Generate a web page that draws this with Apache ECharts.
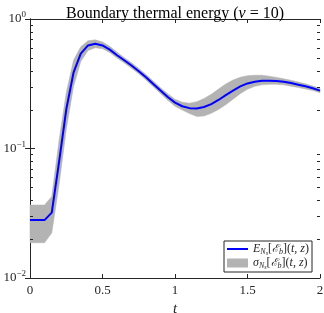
<!DOCTYPE html>
<html><head><meta charset="utf-8">
<script src="https://cdn.jsdelivr.net/npm/echarts@6/dist/echarts.min.js"></script>
<style>html,body{margin:0;padding:0;background:#fff}#c{width:324px;height:313px}</style>
</head><body><div id="c"></div>
<script>
const tVals = [0,0.05,0.1,0.15,0.2,0.25,0.3,0.35,0.4,0.45,0.5,0.55,0.6,0.65,0.7,0.75,0.8,0.85,0.9,0.95,1.0,1.05,1.1,1.15,1.2,1.25,1.3,1.35,1.4,1.45,1.5,1.55,1.6,1.65,1.7,1.75,1.8,1.85,1.9,1.95,2.0];
const meanVals = [0.028,0.028,0.028,0.032,0.078,0.2,0.385,0.54,0.625,0.645,0.625,0.58,0.525,0.48,0.437,0.395,0.355,0.315,0.28,0.25,0.226,0.212,0.205,0.204,0.209,0.22,0.237,0.258,0.28,0.302,0.318,0.328,0.334,0.334,0.332,0.328,0.32,0.311,0.302,0.292,0.28];
const lowerVals = [0.0187,0.0187,0.0187,0.0223,0.052,0.14,0.3,0.47,0.57,0.6,0.59,0.55,0.5,0.458,0.417,0.377,0.338,0.3,0.266,0.236,0.212,0.198,0.186,0.177,0.178,0.187,0.2,0.218,0.24,0.265,0.287,0.302,0.31,0.313,0.313,0.31,0.303,0.296,0.288,0.28,0.27];
const upperVals = [0.0366,0.0366,0.0366,0.0426,0.115,0.27,0.48,0.61,0.68,0.69,0.665,0.615,0.555,0.503,0.46,0.415,0.373,0.332,0.295,0.265,0.24,0.228,0.224,0.23,0.243,0.262,0.288,0.315,0.338,0.355,0.365,0.368,0.368,0.362,0.354,0.345,0.336,0.326,0.316,0.304,0.29];
const xTicks = [0,0.5,1,1.5,2];
const yMajorTicks = [0.01,0.1,1];
const yMinorTicks = [0.02,0.03,0.04,0.05,0.06,0.07,0.08,0.09,0.2,0.3,0.4,0.5,0.6,0.7,0.8,0.9];
const seriesNames = ['mean','std'];

const serif = 'Liberation Serif';
const ink = '#262626';
const gray = '#b3b3b3';
const meanData = tVals.map((t,i)=>[t,meanVals[i]]);

const legendRich = {
  n:{fontFamily:serif,fontSize:12,color:ink},
  i:{fontFamily:serif,fontSize:12,fontStyle:'italic',color:ink},
  sub:{fontFamily:serif,fontSize:8,fontStyle:'italic',color:ink,padding:[5,0,0,0]},
  subsub:{fontFamily:serif,fontSize:6,fontStyle:'italic',color:ink,padding:[8,0,0,0]},
  sc:{fontFamily:'DejaVu Serif',fontSize:11,fontStyle:'italic',color:ink}
};
const legendText = {
  mean:'{i|E}{sub|N}{subsub|s}{n|[}{sc|ℰ}{sub|b}{n|](}{i|t}{n|, }{i|z}{n|)}',
  std:'{i|σ}{sub|N}{subsub|s}{n|[}{sc|ℰ}{sub|b}{n|](}{i|t}{n|, }{i|z}{n|)}'
};

const option = {
  animation:false,
  backgroundColor:'#fff',
  title:{
    text:'{n|Boundary thermal energy (}{i|ν}{n| = 10)}',
    left:170, top:1, textAlign:'center',
    textStyle:{fontWeight:'normal',rich:{n:{fontFamily:serif,fontSize:16,fontWeight:'normal',color:'#000'},i:{fontFamily:serif,fontSize:16,fontWeight:'normal',fontStyle:'italic',color:'#000'}}}
  },
  grid:{left:30,right:4,top:19,bottom:35,containLabel:false,outerBoundsMode:'none'},
  legend:{
    orient:'vertical', right:12, bottom:41,
    data:[{name:seriesNames[0],itemStyle:{opacity:0}},{name:seriesNames[1],icon:'rect',itemStyle:{color:gray}}],
    borderColor:ink, borderWidth:1, backgroundColor:'#fff',
    padding:[2,3,2,2], itemGap:1, itemWidth:21, itemHeight:9,
    formatter:(n)=>legendText[n],
    textStyle:{rich:legendRich, padding:[0,0,0,0]}
  },
  xAxis:[{
    type:'value', min:0, max:2, interval:0.5,
    name:'t', nameLocation:'middle', nameGap:24,
    nameTextStyle:{fontFamily:serif,fontStyle:'italic',fontSize:15,color:ink},
    axisLine:{lineStyle:{color:ink}},
    axisTick:{inside:true,length:4,lineStyle:{color:ink}},
    axisLabel:{fontFamily:serif,fontSize:13,color:ink,margin:6,formatter:(v)=>String(v)},
    splitLine:{show:false}
  },{
    type:'value', min:0, max:2, interval:0.5, position:'top',
    axisLine:{lineStyle:{color:ink}},
    axisTick:{inside:true,length:4,lineStyle:{color:ink}},
    axisLabel:{show:false}, splitLine:{show:false}
  }],
  yAxis:[{
    type:'log', min:0.01, max:1, logBase:10,
    axisLine:{show:true,lineStyle:{color:ink}},
    axisTick:{show:true,inside:true,length:5,lineStyle:{color:ink}},
    axisLabel:{margin:4,color:ink,
      formatter:(v)=>{const e=Math.round(Math.log10(v));return '{b|10}{s|'+(e<0?'−'+(-e):e)+'}';},
      rich:{b:{fontFamily:serif,fontSize:13,color:ink},s:{fontFamily:serif,fontSize:9,color:ink,padding:[0,0,8,0]}}},
    splitLine:{show:false}
  },{
    type:'log', min:0.01, max:1, logBase:10, position:'right',
    axisLine:{show:true,lineStyle:{color:ink}},
    axisTick:{show:true,inside:true,length:5,lineStyle:{color:ink}},
    axisLabel:{show:false}, splitLine:{show:false}
  }],
  series:[
    {name:seriesNames[1], type:'custom', silent:true, z:1, itemStyle:{color:gray},
     data:[[0,0.1]],
     renderItem:(params,api)=>{
       const pts = [];
       for(let i=0;i<tVals.length;i++) pts.push(api.coord([tVals[i],upperVals[i]]));
       for(let i=tVals.length-1;i>=0;i--) pts.push(api.coord([tVals[i],lowerVals[i]]));
       return {type:'polygon',shape:{points:pts,smooth:0},style:{fill:gray,stroke:gray,lineWidth:0.5}};
     }},
    {name:seriesNames[0], type:'line', data:meanData, symbol:'none', color:'#0000ff',
     lineStyle:{color:'#0000ff',width:2}, z:3},
    {name:'minorTicks', type:'custom', silent:true, z:4,
     data:yMinorTicks.map(v=>[0,v]),
     renderItem:(params,api)=>{
       const p = api.coord([0, api.value(1)]);
       const cs = params.coordSys;
       const y = Math.round(p[1])+0.5;
       return {type:'group',children:[
         {type:'line',shape:{x1:cs.x,y1:y,x2:cs.x+3,y2:y},style:{stroke:ink,lineWidth:1}},
         {type:'line',shape:{x1:cs.x+cs.width-3,y1:y,x2:cs.x+cs.width,y2:y},style:{stroke:ink,lineWidth:1}}
       ]};
     }}
  ]
};
const chart = echarts.init(document.getElementById('c'),null,{renderer:'canvas'});
chart.setOption(option);
</script></body></html>
